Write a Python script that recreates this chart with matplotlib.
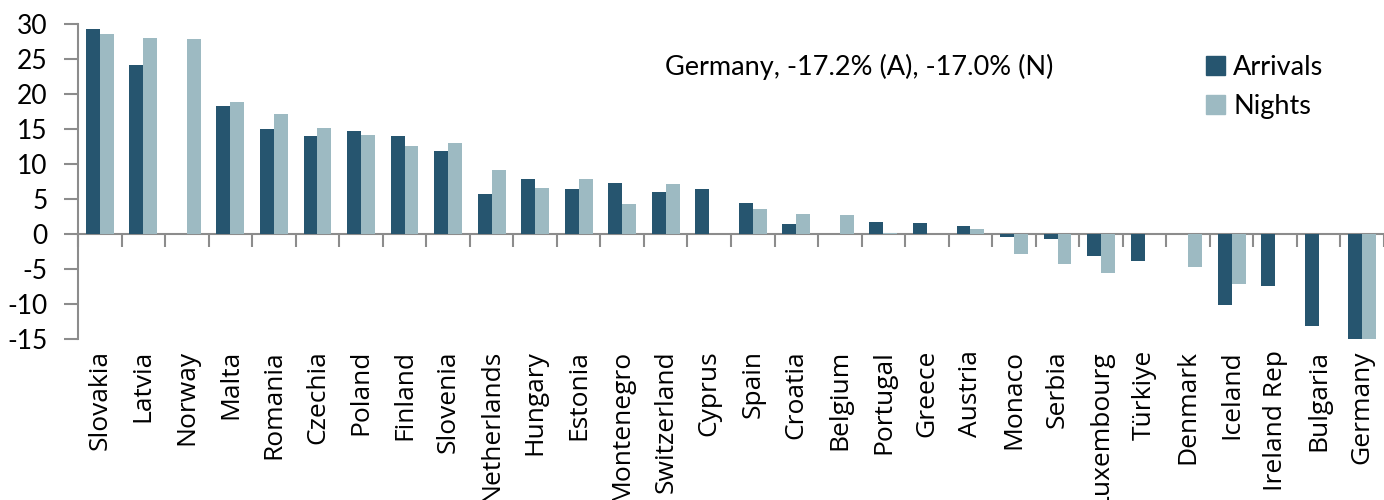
import numpy as np
import matplotlib
matplotlib.use('Agg')
from matplotlib import pyplot as plt
from matplotlib.patches import Patch

# dados (variacao %)
paises = ['Slovakia', 'Latvia', 'Norway', 'Malta', 'Romania', 'Czechia', 'Poland',
          'Finland', 'Slovenia', 'Netherlands', 'Hungary', 'Estonia', 'Montenegro',
          'Switzerland', 'Cyprus', 'Spain', 'Croatia', 'Belgium', 'Portugal', 'Greece',
          'Austria', 'Monaco', 'Serbia', 'Luxembourg', 'Türkiye', 'Denmark', 'Iceland',
          'Ireland Rep', 'Bulgaria', 'Germany']
arrivals = [29.3, 24.1, np.nan, 18.3, 15.0, 14.0, 14.7, 14.0, 11.9, 5.7, 7.9, 6.4, 7.3,
            6.0, 6.5, 4.4, 1.4, np.nan, 1.7, 1.6, 1.1, -0.4, -0.7, -3.2, -3.9, np.nan,
            -10.2, -7.4, -13.1, -17.2]
nights = [28.6, 28.0, 27.8, 18.9, 17.1, 15.1, 14.1, 12.6, 13.0, 9.1, 6.6, 7.9, 4.3,
          7.1, np.nan, 3.6, 2.8, 2.7, 0.2, np.nan, 0.7, -2.9, -4.3, -5.6, np.nan, -4.7,
          -7.1, np.nan, np.nan, -17.0]
yticks = [-15, -10, -5, 0, 5, 10, 15, 20, 25, 30]
nota = 'Germany, -17.2% (A), -17.0% (N)'

cor_a = '#26556f'
cor_n = '#9dbac2'
cinza = '#8c8c8c'
fonte = 'Lato'

fig = plt.figure(figsize=(13.84, 5.0), dpi=100)
ax = fig.add_axes([0.0564, 0.322, 0.9436, 0.630])

x = np.arange(len(paises))
w = 0.32
ax.bar(x - w/2, arrivals, w, color=cor_a, zorder=3)
ax.bar(x + w/2, nights, w, color=cor_n, zorder=3)

ax.set_xlim(-0.5, len(paises) - 0.5)
ax.set_ylim(-15, 30)

# eixo y
ax.set_yticks(yticks)
ax.set_yticklabels([str(v) for v in yticks], fontsize=19, family=fonte)
ax.tick_params(axis='y', length=10, width=1.5, color=cinza, pad=12)
for s in ['top', 'right', 'bottom']:
  ax.spines[s].set_visible(False)
ax.spines['left'].set_color(cinza)
ax.spines['left'].set_linewidth(1.5)

# rotulos das categorias embaixo do grafico (cortados na borda como no original)
ax.set_xticks(x)
ax.set_xticklabels(paises, rotation=90, fontsize=19, family='Open Sans')
ax.tick_params(axis='x', length=0, pad=8)

# linha do zero com marcas entre categorias
sec = ax.secondary_xaxis(15/45)
sec.set_xticks(np.arange(len(paises) + 1) - 0.5)
sec.tick_params(axis='x', length=9, width=1.5, color=cinza, labelbottom=False)
sec.spines['bottom'].set_color(cinza)
sec.spines['bottom'].set_linewidth(1.5)

fig.text(665/1384, 1 - 67/500, nota, fontsize=19.5, family=fonte, va='center', ha='left')

handles = [Patch(color=cor_a, label='Arrivals'), Patch(color=cor_n, label='Nights')]
fig.legend(handles=handles, loc='upper left', bbox_to_anchor=(1206/1384, 1 - 55/500),
           frameon=False, prop={'family': fonte, 'size': 19.5}, handlelength=0.7,
           handleheight=0.7, handletextpad=0.3, labelspacing=0.5, borderaxespad=0,
           borderpad=0)

fig.savefig('out.png', dpi=100)
plt.close()
